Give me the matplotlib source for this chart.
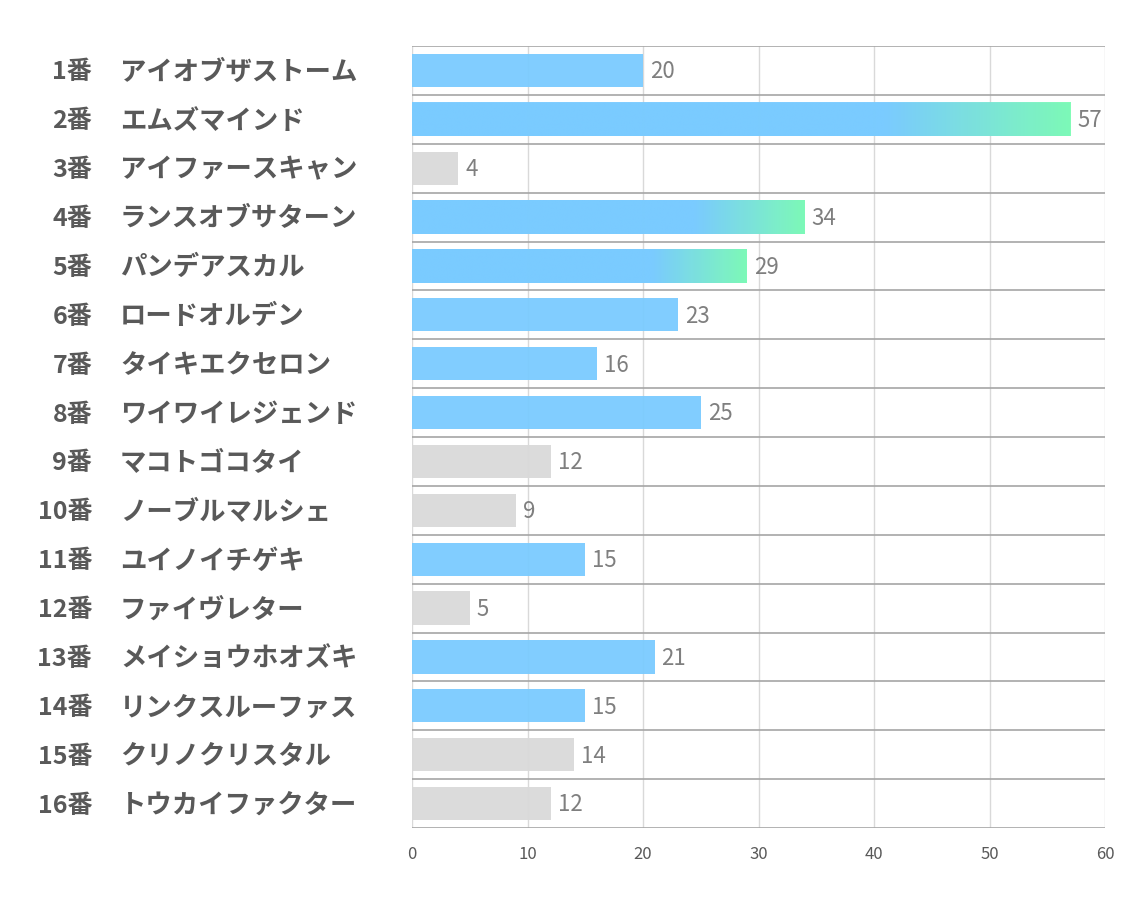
import numpy as np
import matplotlib.pyplot as plt
import matplotlib.transforms as mtransforms
from matplotlib.colors import LinearSegmentedColormap

plt.rcParams['font.family'] = ['Noto Sans CJK JP', 'DejaVu Sans']

# data
numbers = ["1番", "2番", "3番", "4番", "5番", "6番", "7番", "8番",
           "9番", "10番", "11番", "12番", "13番", "14番", "15番", "16番"]
names = ["アイオブザストーム", "エムズマインド", "アイファースキャン", "ランスオブサターン",
         "パンデアスカル", "ロードオルデン", "タイキエクセロン", "ワイワイレジェンド",
         "マコトゴコタイ", "ノーブルマルシェ", "ユイノイチゲキ", "ファイヴレター",
         "メイショウホオズキ", "リンクスルーファス", "クリノクリスタル", "トウカイファクター"]
values = [20, 57, 4, 34, 29, 23, 16, 25, 12, 9, 15, 5, 21, 15, 14, 12]
highlight = [True, True, False, True, True, True, True, True,
             False, False, True, False, True, True, False, False]
gradient = [False, True, False, True, True, False, False, False,
            False, False, False, False, False, False, False, False]

blue = "#7acbff"
green = "#7dfcb4"
grey = "#d9d9d9"
bar_h = 0.68

fig = plt.figure(figsize=(11.34, 9.07), dpi=100)
ax = fig.add_axes([412 / 1134, 1 - 828 / 907, 693 / 1134, 782 / 907])

y = np.arange(len(values))
colors = [blue if h else grey for h in highlight]
ax.barh(y, values, height=bar_h, color=colors, alpha=0.95, zorder=2)

# gradient on the last part of some bars
cmap = LinearSegmentedColormap.from_list("bg", [(0, blue), (0.72, blue), (1, green)])
grad = np.linspace(0, 1, 256).reshape(1, -1)
for yi, v, g in zip(y, values, gradient):
    if g:
        ax.imshow(grad, cmap=cmap, aspect="auto", zorder=3, alpha=0.95,
                  extent=[0, v, yi + bar_h / 2, yi - bar_h / 2],
                  interpolation="bilinear")

ax.set_xlim(0, 60)
ax.set_ylim(len(values) - 0.5, -0.5)

# grid
for xv in range(0, 61, 10):
    ax.axvline(xv, color="#d9d9d9", lw=1, zorder=1)
for yb in np.arange(-0.5, len(values), 1.0):
    ax.axhline(yb, color="#a6a6a6", lw=1.2, zorder=4)

for s in ax.spines.values():
    s.set_visible(False)

ax.set_yticks([])
ax.set_xticks(range(0, 61, 10))
ax.tick_params(axis="x", length=0, pad=13, labelsize=12, labelcolor="#595959")

# value labels
for yi, v in zip(y, values):
    ax.annotate(str(v), (v, yi), xytext=(5, -1), textcoords="offset points",
                va="center", ha="left", fontsize=16, color="#7f7f7f", zorder=5)

# row labels
trans = mtransforms.blended_transform_factory(fig.transFigure, ax.transData)
for yi, num, name in zip(y, numbers, names):
    ax.text(92 / 1134, yi + 0.04, num, transform=trans, ha="right", va="center",
            fontsize=18, fontweight="bold", color="#595959")
    ax.text(120 / 1134, yi + 0.04, name, transform=trans, ha="left", va="center",
            fontsize=19, fontweight="bold", color="#595959")

fig.savefig("out.png", dpi=100)
